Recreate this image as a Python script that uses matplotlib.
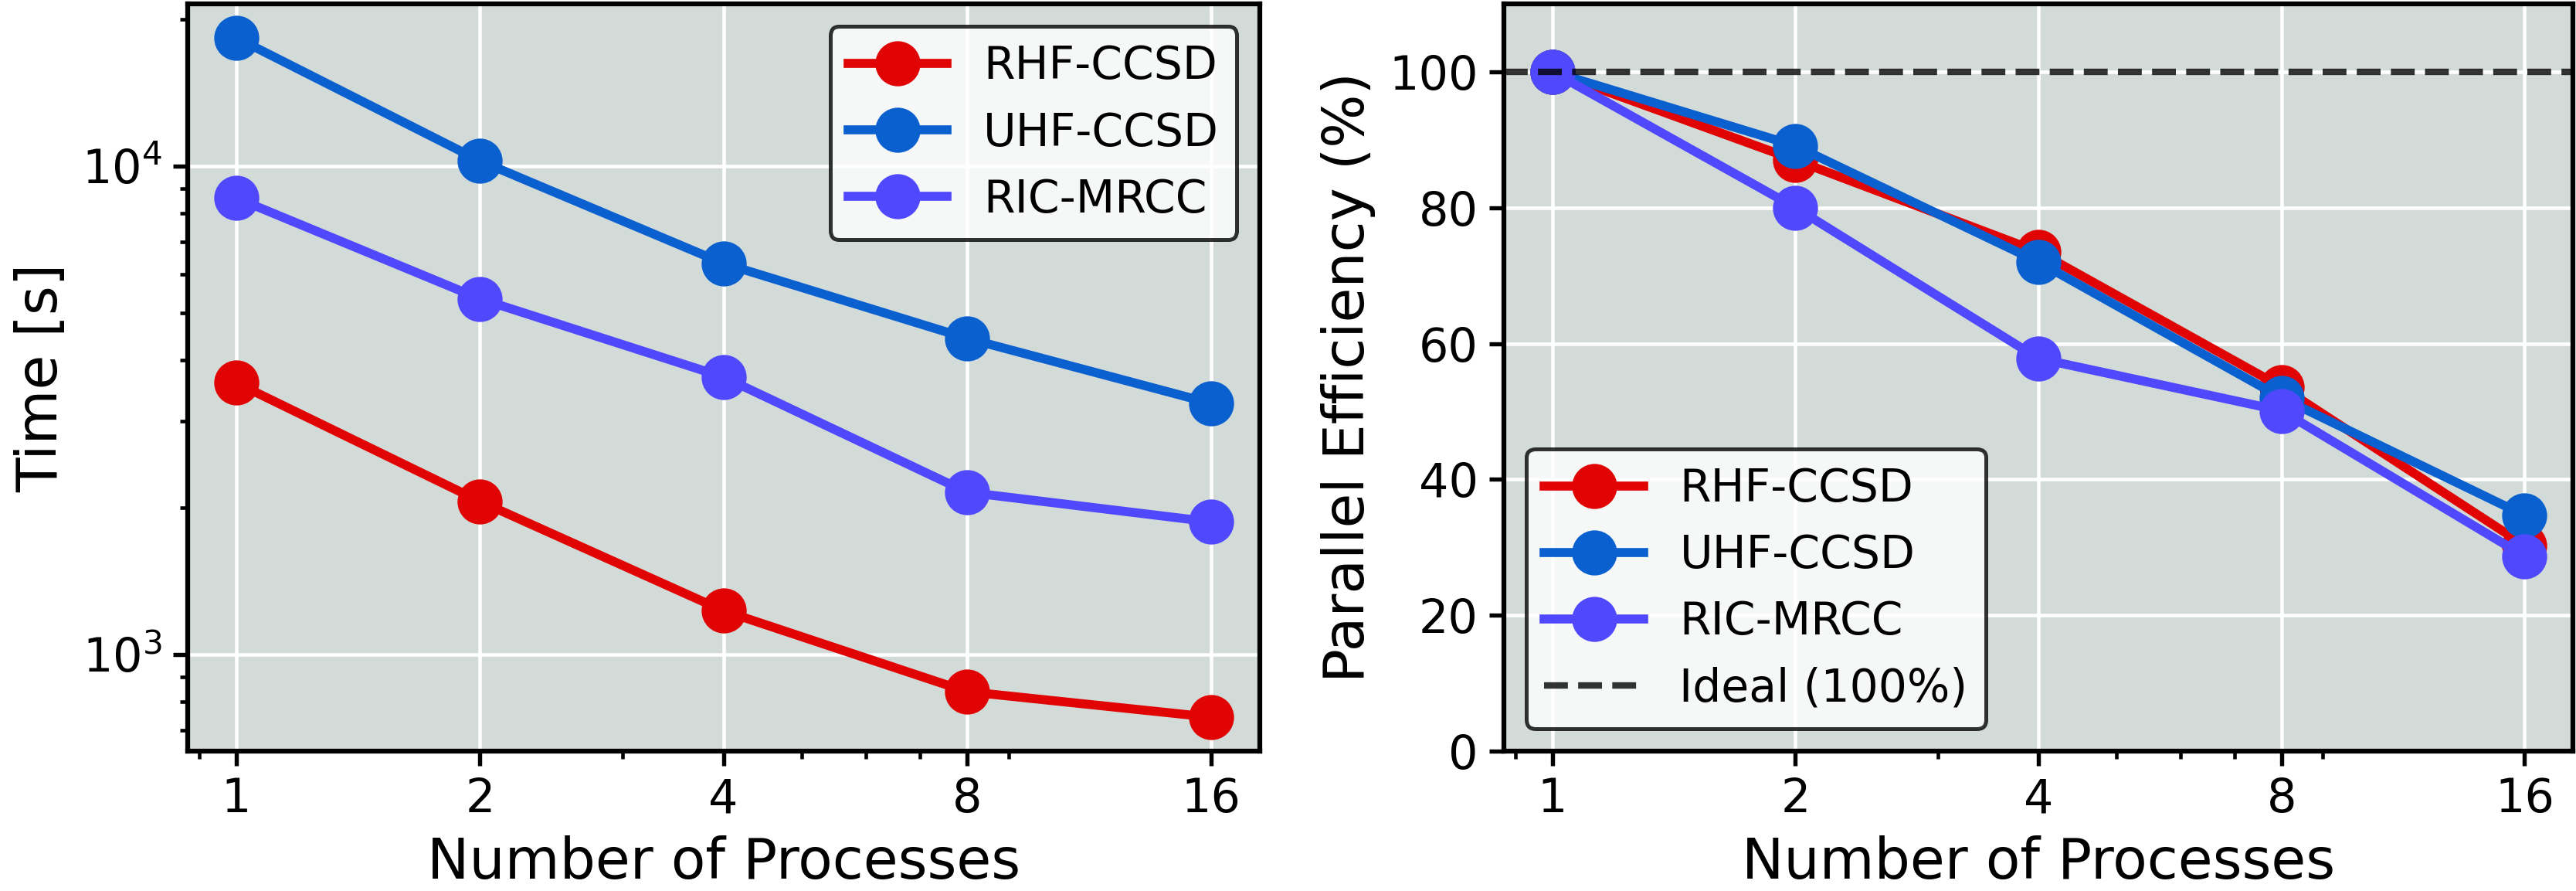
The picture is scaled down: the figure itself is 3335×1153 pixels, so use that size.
import matplotlib
matplotlib.use("Agg")
import matplotlib.pyplot as plt
import numpy as np

# data
procs = [1, 2, 4, 8, 16]
labels = ["RHF-CCSD", "UHF-CCSD", "RIC-MRCC"]
time_rhf = [3600, 2060, 1230, 840, 745]
time_uhf = [18300, 10250, 6320, 4440, 3270]
time_ric = [8600, 5350, 3700, 2150, 1870]
eff_rhf = [100, 87.0, 73.5, 53.6, 30.3]
eff_uhf = [100, 89.1, 72.0, 52.0, 34.7]
eff_ric = [100, 80.0, 57.8, 50.1, 28.7]
ideal = 100

colors = ["#e00404", "#0b60d0", "#5048fc"]
bg = "#d3dbd8"

plt.rcParams["font.family"] = "DejaVu Sans"
plt.rcParams["axes.linewidth"] = 1.5

fig = plt.figure(figsize=(3336 / 300, 1153 / 300))
ax1 = fig.add_axes([0.0728, 0.157, 0.4160, 0.8387])
ax2 = fig.add_axes([0.5836, 0.157, 0.4150, 0.8387])

for ax in (ax1, ax2):
    ax.set_facecolor(bg)
    ax.set_xscale("log")
    ax.grid(True, which="major", color="white", linewidth=1.1)
    ax.tick_params(which="major", length=4.5, width=1.3, labelsize=14.5)
    ax.tick_params(which="minor", length=2.3, width=1.1)
    ax.set_xlabel("Number of Processes", fontsize=17.5)

# left: wall time
for t, c, lab in zip([time_rhf, time_uhf, time_ric], colors, labels):
    ax1.plot(procs, t, "-o", color=c, lw=2.8, ms=13, label=lab)
ax1.set_yscale("log")
ax1.set_xticks(procs)
ax1.set_xticklabels([str(p) for p in procs])
ax1.set_ylabel("Time [s]", fontsize=17.5)
leg1 = ax1.legend(loc="upper right", fontsize=14, handlelength=2.2,
                  edgecolor="black", fancybox=True)
leg1.get_frame().set_linewidth(1.2)

# right: parallel efficiency
for e, c, lab in zip([eff_rhf, eff_uhf, eff_ric], colors, labels):
    ax2.plot(procs, e, "-o", color=c, lw=2.8, ms=13, label=lab)
ax2.axhline(ideal, color="black", alpha=0.8, lw=2, ls="--", label="Ideal (100%)")
ax2.set_xticks(procs)
ax2.set_xticklabels([str(p) for p in procs])
ax2.set_ylim(0, 110)
ax2.set_yticks([0, 20, 40, 60, 80, 100])
ax2.set_ylabel("Parallel Efficiency (%)", fontsize=17.5)
leg2 = ax2.legend(loc="lower left", fontsize=14, handlelength=2.2,
                  edgecolor="black", fancybox=True)
leg2.get_frame().set_linewidth(1.2)

fig.savefig("out.png", dpi=300)
